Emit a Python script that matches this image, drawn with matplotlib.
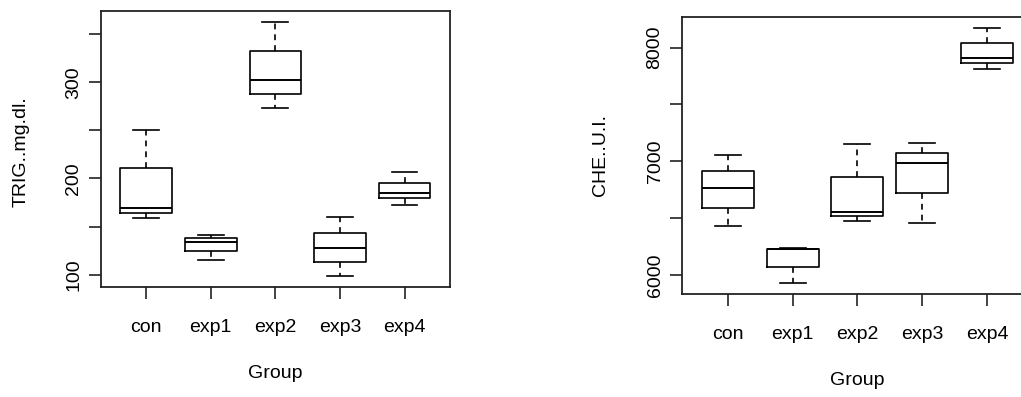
import matplotlib
matplotlib.use("Agg")
import matplotlib.pyplot as plt

plt.rcParams['font.family'] = ['Liberation Sans', 'DejaVu Sans']

groups = ["con", "exp1", "exp2", "exp3", "exp4"]

# five-number summaries: lower whisker, Q1, median, Q3, upper whisker
trig_low = [158.6, 114.9, 273.0, 98.6, 172.4]
trig_q1 = [164.5, 124.3, 287.5, 113.5, 179.4]
trig_med = [169.7, 134.3, 302.8, 127.4, 184.9]
trig_q3 = [210.6, 138.1, 332.9, 143.7, 195.7]
trig_high = [250.4, 140.9, 363.1, 160.0, 206.4]

che_low = [6428, 5930, 6478, 6455, 7815]
che_q1 = [6592, 6070, 6522, 6724, 7862]
che_med = [6768, 6229, 6557, 6988, 7906]
che_q3 = [6918, 6232, 6859, 7070, 8044]
che_high = [7059, 6240, 7150, 7164, 8173]

trig_ticks = [100, 150, 200, 250, 300, 350]
trig_labels = ["100", "", "200", "", "300", ""]
che_ticks = [6000, 6500, 7000, 7500, 8000]
che_labels = ["6000", "", "7000", "", "8000"]


def make_stats(low, q1, med, q3, high):
    return [dict(whislo=a, q1=b, med=c, q3=d, whishi=e, fliers=[])
            for a, b, c, d, e in zip(low, q1, med, q3, high)]


def r_boxplot(ax, stats, ylabel, ticks, labels, ylim, xlab_y, ylab_x, ylab_y):
    lw = 1.2
    ax.bxp(stats, positions=range(1, 6), widths=0.8, capwidths=0.4,
           showfliers=False,
           boxprops=dict(color="black", linewidth=lw),
           whiskerprops=dict(color="black", linewidth=lw, linestyle=(0, (3.5, 3))),
           capprops=dict(color="black", linewidth=lw),
           medianprops=dict(color="black", linewidth=lw + 0.2))
    ax.set_xlim(0.3, 5.7)
    ax.set_ylim(*ylim)
    ax.set_xticks(range(1, 6))
    ax.set_xticklabels(groups, fontsize=14)
    ax.set_yticks(ticks)
    ax.set_yticklabels(labels, fontsize=14, rotation=90, va="center")
    ax.tick_params(length=8.5, width=1.2, color="#222222")
    ax.tick_params(axis="x", pad=15)
    ax.tick_params(axis="y", pad=5)
    for s in ax.spines.values():
        s.set_linewidth(1.3)
        s.set_color("#222222")
    ax.set_xlabel("Group", fontsize=14, va="center")
    ax.set_ylabel(ylabel, fontsize=14, va="center", ha="center")
    ax.xaxis.set_label_coords(0.5, xlab_y)
    ax.yaxis.set_label_coords(ylab_x, ylab_y)


fig = plt.figure(figsize=(10.21, 3.97), dpi=100)

ax1 = fig.add_axes([0.0989, 0.2778, 0.3416, 0.6945])
r_boxplot(ax1, make_stats(trig_low, trig_q1, trig_med, trig_q3, trig_high),
          "TRIG..mg.dl.", trig_ticks, trig_labels, (87.5, 374.1),
          -0.313, -0.230, 0.49)

ax2 = fig.add_axes([0.6683, 0.2602, 0.343, 0.698])
r_boxplot(ax2, make_stats(che_low, che_q1, che_med, che_q3, che_high),
          "CHE..U.I.", che_ticks, che_labels, (5835, 8272),
          -0.312, -0.233, 0.50)

fig.savefig("out.png", dpi=100)
